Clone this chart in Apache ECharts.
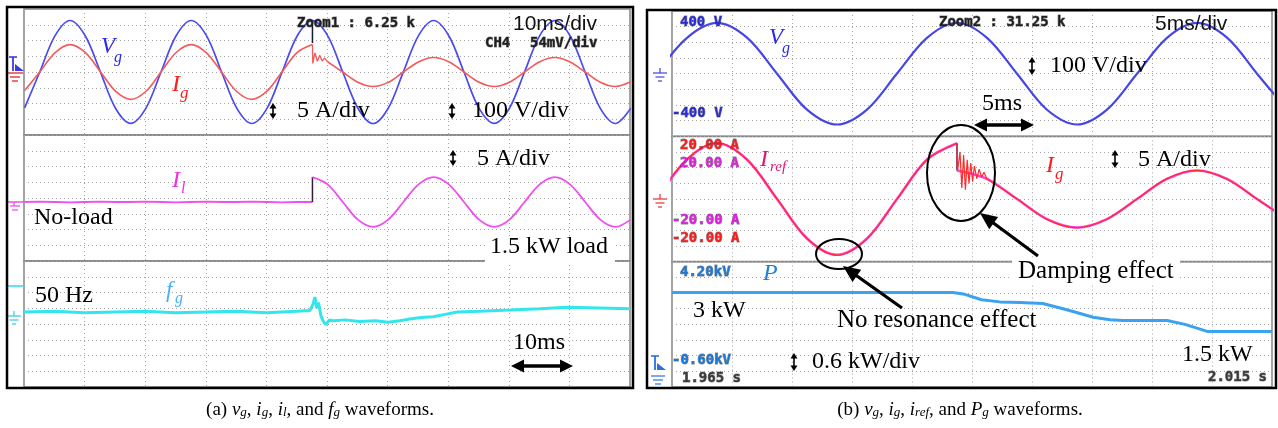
<!DOCTYPE html>
<html>
<head>
<meta charset="utf-8">
<script src="https://cdn.jsdelivr.net/npm/echarts@6/dist/echarts.min.js"></script>
<style>
  html, body { margin: 0; padding: 0; background: #fff; }
  #c { width: 1278px; height: 428px; }
</style>
</head>
<body>
<div id="c"></div>
<script>
// ===== (a) 10 ms/div record, time in ms =====
const leftT = [0.1, 2.6, 5.1, 7.6, 10.1, 12.6, 15.1, 17.6, 20.1, 22.6, 25.1, 27.6, 30.1, 32.6, 35.1, 37.6, 40.1, 42.6, 45.1, 47.6,
               50.1, 52.6, 55.1, 57.6, 60.1, 62.6, 65.1, 67.6, 70.1, 72.6, 75.1, 77.6, 80.1, 82.6, 85.1, 87.6, 90.1, 92.6, 95.1, 97.6, 100.1];
// grid voltage (V)
const vgA = [-228, 0, 229, 327, 230, 1, -230, -326, -231, -1, 230, 327, 231, 0, -229, -327, -231, 0, 230, 326,
             231, 0, -230, -327, -230, 1, 231, 327, 230, 0, -231, -326, -230, 0, 231, 327, 230, -1, -231, -327, -231];
// grid current (A): before the load step, ringing after it, then steady state
const igApre = [-5.9, 0, 6.1, 8.7, 6.2, 0.1, -6.1, -8.7, -6.2, 0, 6.2, 8.7, 6.1, 0, -6.2, -8.7, -6.1, 0.1, 6.2, 8.7];
const igRingAT = [47.6, 47.65, 48.0, 48.4, 48.8, 49.2, 49.6, 50.1];
const igRingAV = [8.7, 2.7, 6.1, 3.4, 5.3, 3.5, 4.4, 3.25];
const igApost = [3.25, 0, -3.25, -4.6, -3.3, 0, 3.2, 4.6, 3.25, 0, -3.25, -4.6, -3.25, 0, 3.25, 4.6, 3.2, 0, -3.25, -4.6, -3.1];
// load current (A)
const ilApre = [0, 0.1, 0, -0.1, 0, 0.1, 0, 0, 0.1, 0, -0.1, 0, 0.1, 0, 0, 0.1, 0, -0.1, 0, 0];
const ilAstep = [0, 7.9];
const ilApost = [7.9, 5.6, 0, -5.6, -7.9, -5.6, 0, 5.6, 7.9, 5.6, 0, -5.6, -7.9, -5.6, 0, 5.6, 7.9, 5.6, 0, -5.6, -7.9, -5.6];
const stepA = 47.6;
const zoomCursorA = [298, 184];
// grid frequency (Hz)
const fgT = [0, 5, 10, 15, 20, 25, 30, 35, 40, 45, 47.2, 47.7, 48.0, 48.3, 48.6, 49.0, 49.4, 49.8, 50.4, 51.0,
             53, 55.4, 58, 60.1, 62, 63.7, 65.5, 67.5, 69.5, 71.5, 75.2, 80.2, 85.1, 89.6, 95, 100];
const fgV = [50.00, 50.01, 49.99, 50.00, 50.01, 49.99, 50.00, 50.01, 49.99, 50.01, 50.02, 50.10, 50.19, 50.05, 50.12, 49.95, 49.88, 49.84, 49.90, 49.89,
             49.90, 49.88, 49.89, 49.87, 49.89, 49.91, 49.93, 49.94, 49.97, 50.00, 50.01, 50.025, 50.04, 50.06, 50.05, 50.04];

// ===== (b) 5 ms/div record, time in ms after 1.965 s =====
const rightT = [-1.25, 1.25, 3.75, 6.25, 8.75, 11.25, 13.75, 16.25, 18.75, 21.25, 23.75,
                26.25, 28.75, 31.25, 33.75, 36.25, 38.75, 41.25, 43.75, 46.25, 48.75, 51.25];
const vgB = [1, 229, 324, 230, 0, -229, -324, -229, 1, 229, 325, 229, 0, -230, -324, -229, 0, 229, 324, 230, 0, -229];
const irefBpre = [0, 12.6, 17.8, 12.6, 0, -12.6, -17.8, -12.6, 0, 12.6, 17.8];
const irefBstep = [17.8, 9.1];
const irefBpost = [9.1, 6.4, 0, -6.4, -9.1, -6.4, 0, 6.4, 9.1, 6.4, 0, -6.4];
const igBpre = [0.2, 12.7, 17.9, 12.5, 0.1, -12.6, -17.9, -12.7, 0, 12.5, 17.8];
const igRingBT = [23.75, 23.8, 24.0, 24.15, 24.3, 24.45, 24.6, 24.75, 24.9, 25.05, 25.2, 25.4, 25.6, 25.8, 26.0, 26.25];
const igRingBV = [17.8, 9.1, 15.0, 3.5, 14.0, 3.0, 12.5, 5.0, 11.5, 5.5, 10.5, 6.5, 9.5, 7.0, 8.5, 6.4];
const igBpost = [6.4, 0.1, -6.5, -9.2, -6.4, 0, 6.5, 9.1, 6.3, 0, -6.4];
const stepB = 23.75;
// active power (kW)
const pT = [0, 23.4, 24.4, 25.8, 27.3, 29, 30.9, 32.75, 35.1, 36.5, 37.6, 41.25, 42.75, 44.6, 50];
const pV = [3.0, 3.0, 2.93, 2.72, 2.64, 2.62, 2.58, 2.36, 2.05, 1.96, 1.93, 1.93, 1.78, 1.51, 1.51];

// scope scale readouts
const scaleA = { zoom: 'Zoom1 : 6.25 k', time: '10ms/div', ch: 'CH4', chScale: '54mV/div' };
const scaleB = { zoom: 'Zoom2 : 31.25 k', time: '5ms/div', vTop: '400 V', vBot: '-400 V',
                 iTop: '20.00 A', iBot: '-20.00 A', pTop: '4.20kV', pBot: '-0.60kV', tStart: '1.965 s', tEnd: '2.015 s' };

// ===== layout =====
const LA = { x: 24, w: 606, tops: [9, 135, 261], h: 126 };
const LB = { x: 672, w: 600, tops: [11, 136.3, 261.6], h: 125.4 };
const SERIF = '"Liberation Serif", "Times New Roman", serif';
const MONO = '"DejaVu Sans Mono", monospace';

const grid = [], xAxis = [], yAxis = [], series = [];
const dotted = { color: '#a6a6a6', width: 1, type: [1, 3] };

function addGrid(L, row, tmax, tint) {
  grid.push({ left: L.x, top: L.tops[row], width: L.w, height: L.h, show: true,
              borderColor: '#858585', borderWidth: 1.5, backgroundColor: 'transparent' });
  const g = grid.length - 1;
  xAxis.push({ type: 'value', gridIndex: g, min: 0, max: tmax, interval: tint,
               axisLine: { show: false }, axisTick: { show: false }, axisLabel: { show: false },
               splitLine: { show: true, lineStyle: dotted } });
  yAxis.push({ type: 'value', gridIndex: g, min: -4, max: 4, interval: 1,
               axisLine: { show: false }, axisTick: { show: false }, axisLabel: { show: false },
               splitLine: { show: true, lineStyle: dotted } });
  return g;
}
// channel axis: reference value `ref` sits `refDiv` divisions above the grid centre
function chanAxis(g, ref, perDiv, refDiv) {
  yAxis.push({ type: 'value', gridIndex: g, show: false, splitLine: { show: false },
               min: ref - (4 + refDiv) * perDiv, max: ref + (4 - refDiv) * perDiv });
  return yAxis.length - 1;
}
const pair = (ts, vs) => ts.map((t, i) => [t, vs[i]]);
function trace(g, y, data, color, width, smooth) {
  series.push({ type: 'line', xAxisIndex: g, yAxisIndex: y, data, symbol: 'none', showSymbol: false,
                smooth: smooth ? 0.33 : false, clip: true, silent: true,
                lineStyle: { color, width }, itemStyle: { color }, z: 3 });
}

// ---- (a) ----
const gA1 = addGrid(LA, 0, 100, 10), gA2 = addGrid(LA, 1, 100, 10), gA3 = addGrid(LA, 2, 100, 10);
const yVA = chanAxis(gA1, 0, 100, 0), yIA = chanAxis(gA1, 0, 5, 0);
const yLA = chanAxis(gA2, 0, 5, -0.254);
const yFA = chanAxis(gA3, 50, 0.2, 0.762);
trace(gA1, yVA, pair(leftT, vgA), '#4b4bf0', 1.7, true);
trace(gA1, yIA, pair(leftT.slice(0, 20), igApre), '#f35a5a', 1.6, true);
trace(gA1, yIA, pair(igRingAT, igRingAV), '#f35a5a', 1.3, false);
trace(gA1, yIA, pair(leftT.slice(20), igApost), '#f35a5a', 1.6, true);
trace(gA1, yVA, [[stepA, zoomCursorA[0]], [stepA, zoomCursorA[1]]], '#1a1a2a', 1.5, false);
trace(gA2, yLA, pair(leftT.slice(0, 20), ilApre), '#f04ef0', 1.8, false);
trace(gA2, yLA, [[stepA, ilAstep[0]], [stepA, ilAstep[1]]], '#3a1a3a', 1.5, false);
trace(gA2, yLA, pair(leftT.slice(19), ilApost), '#f04ef0', 1.8, true);
trace(gA3, yFA, pair(fgT, fgV), '#33e6ee', 3, false);

// ---- (b) ----
const gB1 = addGrid(LB, 0, 50, 5), gB2 = addGrid(LB, 1, 50, 5), gB3 = addGrid(LB, 2, 50, 5);
const yVB = chanAxis(gB1, 0, 100, 0);
const yIB = chanAxis(gB2, 0, 5, 0);
const yPB = chanAxis(gB3, 0, 0.6, -2.97);
trace(gB1, yVB, pair(rightT, vgB), '#4646e6', 2.2, true);
trace(gB2, yIB, pair(rightT.slice(0, 11), irefBpre), '#ff44d8', 2.6, true);
trace(gB2, yIB, [[stepB, irefBstep[0]], [stepB, irefBstep[1]]], '#7a1f6a', 1.6, false);
trace(gB2, yIB, pair(rightT.slice(10), irefBpost), '#ff44d8', 2.6, true);
trace(gB2, yIB, pair(rightT.slice(0, 11), igBpre), '#ff2a2a', 1.2, true);
trace(gB2, yIB, pair(igRingBT, igRingBV), '#ff2a2a', 1.2, false);
trace(gB2, yIB, pair(rightT.slice(11), igBpost), '#ff2a2a', 1.2, true);
trace(gB3, yPB, pair(pT, pV), '#3aa3f0', 3, false);

// ===== annotations =====
const G = [];
function txt(x, y, s, font, fill, extra) {
  G.push({ type: 'text', x, y, z: 20,
           style: Object.assign({ text: s, font, fill, align: 'left', verticalAlign: 'middle',
                                  textAlign: 'left', textVerticalAlign: 'middle' }, extra || {}) });
}
function scopeTxt(x, y, s, fill) {
  txt(x, y, s, 'bold 14px ' + MONO, fill, { stroke: 'rgba(40,40,40,0.55)', lineWidth: 1 });
}
function seg(x1, y1, x2, y2, stroke, w) {
  G.push({ type: 'line', z: 20, shape: { x1, y1, x2, y2 }, style: { stroke, lineWidth: w } });
}
function poly(points, fill) {
  G.push({ type: 'polygon', z: 20, shape: { points }, style: { fill } });
}
function box(x, y, w, h) {
  G.push({ type: 'rect', z: 15, shape: { x, y, width: w, height: h }, style: { fill: '#fff' } });
}
function vArrow(x, y1, y2) {
  seg(x, y1 + 3, x, y2 - 3, '#000', 1.6);
  poly([[x - 3.5, y1 + 5.5], [x + 3.5, y1 + 5.5], [x, y1]], '#000');
  poly([[x - 3.5, y2 - 5.5], [x + 3.5, y2 - 5.5], [x, y2]], '#000');
}
function hArrow(x1, x2, y) {
  seg(x1 + 8, y, x2 - 8, y, '#000', 3.5);
  poly([[x1, y], [x1 + 13, y - 6.5], [x1 + 13, y + 6.5]], '#000');
  poly([[x2, y], [x2 - 13, y - 6.5], [x2 - 13, y + 6.5]], '#000');
}
function pointer(tx, ty, hx, hy) {
  const dx = hx - tx, dy = hy - ty, len = Math.hypot(dx, dy), ux = dx / len, uy = dy / len;
  const bx = hx - ux * 17, by = hy - uy * 17;
  seg(tx, ty, bx + ux * 2, by + uy * 2, '#000', 3.2);
  poly([[hx, hy], [bx - uy * 7.5, by + ux * 7.5], [bx + uy * 7.5, by - ux * 7.5]], '#000');
}
function ellipse(cx, cy, rx, ry) {
  G.push({ type: 'ellipse', z: 20, shape: { cx, cy, rx, ry }, style: { fill: 'transparent', stroke: '#000', lineWidth: 2 } });
}
function ground(x, y, color) {
  seg(x, y - 5, x, y, color, 1.2);
  seg(x - 7, y, x + 7, y, color, 1.2);
  seg(x - 4.5, y + 4, x + 4.5, y + 4, color, 1.2);
  seg(x - 2, y + 8, x + 2, y + 8, color, 1.2);
}
function trigMark(x, y, color) {
  seg(x - 4, y, x + 4, y, color, 1.6);
  seg(x, y, x, y + 14, color, 1.8);
  poly([[x + 2, y + 7], [x + 11, y + 14], [x + 2, y + 14]], color);
}
const it = (px) => 'italic ' + px + 'px ' + SERIF;
const rm = (px) => px + 'px ' + SERIF;

// outer frames
G.push({ type: 'rect', z: 25, shape: { x: 7, y: 7, width: 626, height: 381 }, style: { fill: 'transparent', stroke: '#000', lineWidth: 2.5 } });
G.push({ type: 'rect', z: 25, shape: { x: 647, y: 10, width: 629, height: 378 }, style: { fill: 'transparent', stroke: '#000', lineWidth: 2.5 } });

// (a) top channel group
scopeTxt(297, 23, scaleA.zoom, '#1e1e1e');
txt(513, 24, scaleA.time, '21px "Liberation Sans", Arial, sans-serif', '#111');
scopeTxt(485, 43, scaleA.ch, '#1e1e1e');
scopeTxt(530, 43, scaleA.chScale, '#1e1e1e');
txt(101, 47, 'V', it(23), '#2a2af0');
txt(114, 58, 'g', it(16), '#2a2af0');
txt(172, 85, 'I', it(24), '#ff1a1a');
txt(180, 94, 'g', it(17), '#ff1a1a');
vArrow(273, 103, 119);
txt(297, 111, '5 A/div', rm(24), '#000');
vArrow(452, 103, 119);
txt(472, 111, '100 V/div', rm(24), '#000');
trigMark(13, 57, '#3a3ae0');
seg(8, 73, 23, 73, '#e83030', 1.4);
seg(10, 77, 20, 77, '#e83030', 1.4);
seg(12, 81, 18, 81, '#e83030', 1.4);
// (a) load current group
txt(172, 181, 'I', it(24), '#f030e0');
txt(181, 189, 'l', it(16), '#f030e0');
vArrow(453, 150, 166);
txt(477, 159, '5 A/div', rm(24), '#000');
txt(34, 218, 'No-load', rm(24), '#000');
box(485, 236, 130, 28);
txt(490, 247, '1.5 kW load', rm(24), '#000');
seg(8, 202, 24, 202, '#f040f0', 1.4);
seg(14, 202, 14, 206, '#f040f0', 1.2);
seg(10, 206, 20, 206, '#f040f0', 1.2);
seg(12, 210, 18, 210, '#f040f0', 1.2);
// (a) frequency group
txt(166, 291, 'f', it(23), '#4aaefc');
txt(175, 299, 'g', it(16), '#4aaefc');
txt(35, 296, '50 Hz', rm(24), '#000');
txt(513, 343, '10ms', rm(24), '#000');
hArrow(511, 573, 366);
seg(8, 286, 24, 286, '#30d8e8', 1.5);
ground(14, 316, '#30c8e0');

// (b) voltage group
scopeTxt(680, 22, scaleB.vTop, '#2a2ad8');
scopeTxt(672, 113, scaleB.vBot, '#2a2ad8');
scopeTxt(939, 22, scaleB.zoom, '#1e1e1e');
txt(1155, 24, scaleB.time, '21px "Liberation Sans", Arial, sans-serif', '#111');
txt(769, 38, 'V', it(23), '#2a2af0');
txt(782, 49, 'g', it(16), '#2a2af0');
vArrow(1032, 57, 75);
txt(1050, 66, '100 V/div', rm(24), '#000');
txt(982, 104, '5ms', rm(24), '#000');
hArrow(974, 1034, 125);
ground(660, 73, '#4040e0');
// (b) current group
scopeTxt(680, 145, scaleB.iTop, '#ff1a1a');
scopeTxt(680, 163, scaleB.iTop, '#e020e0');
scopeTxt(672, 220, scaleB.iBot, '#e020e0');
scopeTxt(672, 238, scaleB.iBot, '#ff1a1a');
txt(760, 160, 'I', it(24), '#e0186e');
txt(770, 167, 'ref', it(15), '#e0186e');
txt(1046, 166, 'I', it(24), '#ff1a1a');
txt(1055, 175, 'g', it(17), '#ff1a1a');
vArrow(1115, 150, 168);
txt(1138, 160, '5 A/div', rm(24), '#000');
ground(660, 199, '#e83030');
ellipse(839, 254, 23, 15);
ellipse(961, 173, 34, 48);
box(1012, 258, 168, 26);
txt(1018, 271, 'Damping effect', rm(25), '#000');
pointer(1038, 256, 980, 213);
txt(837, 320, 'No resonance effect', rm(25), '#000');
pointer(902, 308, 843, 266);
// (b) power group
scopeTxt(680, 272, scaleB.pTop, '#1a78d8');
txt(763, 274, 'P', it(24), '#1a80d8');
txt(693, 311, '3 kW', rm(24), '#000');
scopeTxt(672, 360, scaleB.pBot, '#1a78d8');
scopeTxt(682, 378, scaleB.tStart, '#3a3a3a');
vArrow(794, 353, 371);
txt(812, 362, '0.6 kW/div', rm(24), '#000');
txt(1182, 355, '1.5 kW', rm(24), '#000');
scopeTxt(1208, 377, scaleB.tEnd, '#3a3a3a');
trigMark(655, 356, '#2a70e0');
seg(651, 376, 665, 376, '#2a70e0', 1.2);
seg(653, 380, 663, 380, '#2a70e0', 1.2);
seg(655, 384, 661, 384, '#2a70e0', 1.2);

// captions
const capRich = {
  r: { font: rm(19), fill: '#000' },
  i: { font: it(19), fill: '#000' },
  s: { font: it(13), fill: '#000', verticalAlign: 'bottom', lineHeight: 14 }
};
G.push({ type: 'text', x: 320, y: 410, z: 20,
  style: { text: '{r|(a) }{i|v}{s|g}{r|, }{i|i}{s|g}{r|, }{i|i}{s|l}{r|, and }{i|f}{s|g}{r| waveforms.}',
           rich: capRich, align: 'center', verticalAlign: 'middle', textAlign: 'center', textVerticalAlign: 'middle' } });
G.push({ type: 'text', x: 960, y: 410, z: 20,
  style: { text: '{r|(b) }{i|v}{s|g}{r|, }{i|i}{s|g}{r|, }{i|i}{s|ref}{r|, and }{i|P}{s|g}{r| waveforms.}',
           rich: capRich, align: 'center', verticalAlign: 'middle', textAlign: 'center', textVerticalAlign: 'middle' } });

const chart = echarts.init(document.getElementById('c'), null, { renderer: 'canvas' });
chart.setOption({ animation: false, backgroundColor: '#fff', grid, xAxis, yAxis, series, graphic: { elements: G } });
</script>
</body>
</html>
